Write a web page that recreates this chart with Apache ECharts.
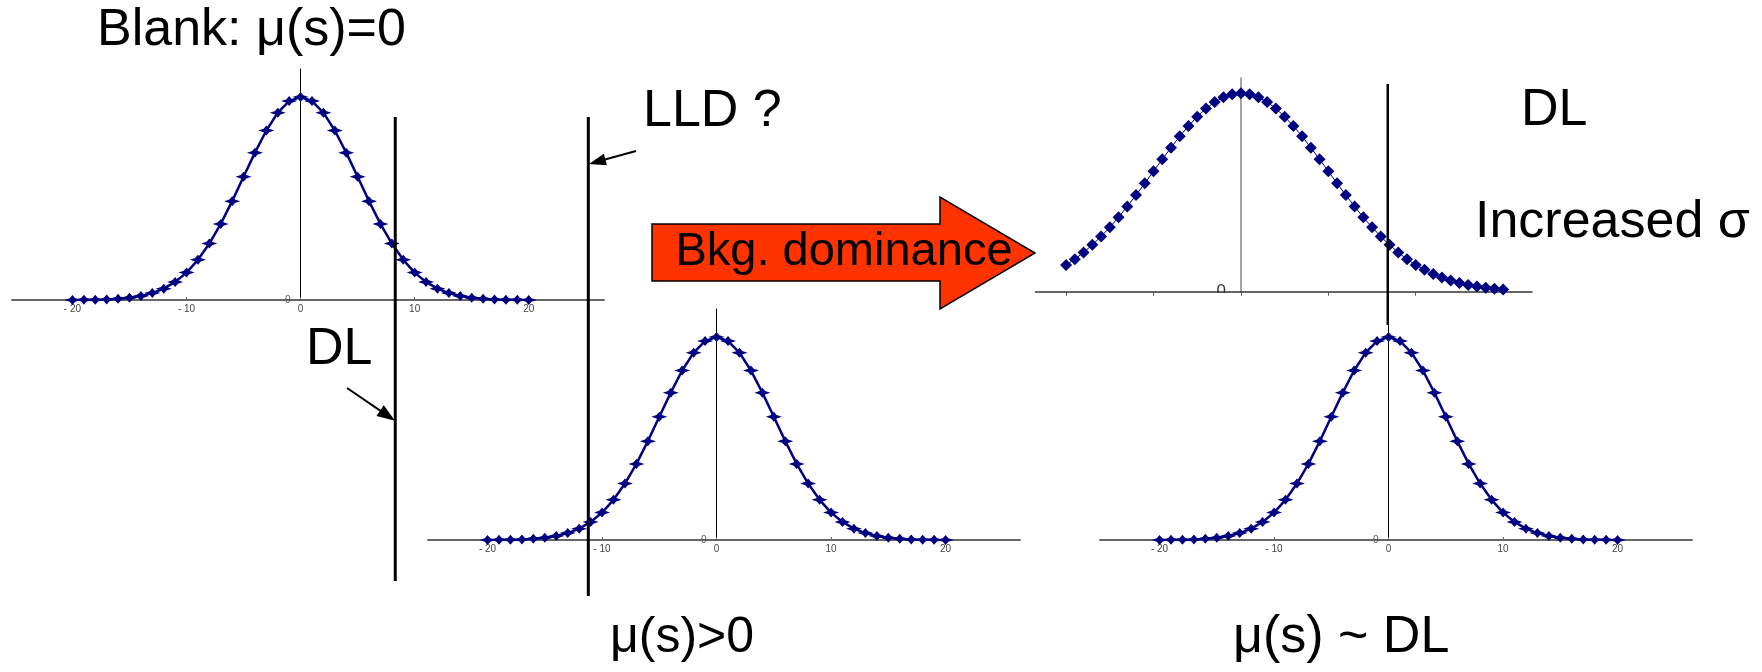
<!DOCTYPE html>
<html>
<head>
<meta charset="utf-8">
<script src="https://cdn.jsdelivr.net/npm/echarts@6/dist/echarts.min.js"></script>
<style>
html,body{margin:0;padding:0;background:#fff;}
#chart{width:1762px;height:672px;}
</style>
</head>
<body>
<div id="chart"></div>
<script>
// ---- data ----
const xNarrow = [-20,-19,-18,-17,-16,-15,-14,-13,-12,-11,-10,-9,-8,-7,-6,-5,-4,-3,-2,-1,0,1,2,3,4,5,6,7,8,9,10,11,12,13,14,15,16,17,18,19,20];
const yBlank = [0.0003,0.0007,0.0015,0.003,0.006,0.011,0.020,0.034,0.056,0.089,0.135,0.198,0.278,0.375,0.487,0.607,0.726,0.835,0.923,0.980,1,0.980,0.923,0.835,0.726,0.607,0.487,0.375,0.278,0.198,0.135,0.089,0.056,0.034,0.020,0.011,0.006,0.003,0.0015,0.0007,0.0003];
const ySignal = [0.0003,0.0007,0.0015,0.003,0.006,0.011,0.020,0.034,0.056,0.089,0.135,0.198,0.278,0.375,0.487,0.607,0.726,0.835,0.923,0.980,1,0.980,0.923,0.835,0.726,0.607,0.487,0.375,0.278,0.198,0.135,0.089,0.056,0.034,0.020,0.011,0.006,0.003,0.0015,0.0007,0.0003];
const yAtDL = [0.0003,0.0007,0.0015,0.003,0.006,0.011,0.020,0.034,0.056,0.089,0.135,0.198,0.278,0.375,0.487,0.607,0.726,0.835,0.923,0.980,1,0.980,0.923,0.835,0.726,0.607,0.487,0.375,0.278,0.198,0.135,0.089,0.056,0.034,0.020,0.011,0.006,0.003,0.0015,0.0007,0.0003];
const xWide = [-20,-19,-18,-17,-16,-15,-14,-13,-12,-11,-10,-9,-8,-7,-6,-5,-4,-3,-2,-1,0,1,2,3,4,5,6,7,8,9,10,11,12,13,14,15,16,17,18,19,20,21,22,23,24,25,26,27,28,29,30];
const yWide = [0.135,0.164,0.198,0.236,0.278,0.325,0.375,0.430,0.487,0.546,0.607,0.667,0.726,0.783,0.835,0.882,0.923,0.956,0.980,0.995,1,0.995,0.980,0.956,0.923,0.882,0.835,0.783,0.726,0.667,0.607,0.546,0.487,0.430,0.375,0.325,0.278,0.236,0.198,0.164,0.135,0.110,0.089,0.071,0.056,0.044,0.034,0.026,0.020,0.015,0.011];
const tickValues = [-20,-10,0,10,20];
// limit lines (x value in the units of the panel they are read from)
const dlBlankX = 8.3;      // DL, top-left panel
const lldX = -11.2;        // LLD, bottom-middle panel
const dlWideX = 16.8;      // DL, top-right panel

const FONT = '"Liberation Sans", Arial, sans-serif';
const NAVY = '#000080';
const starPath = 'path://M0,-10 L3.5,-3.5 L10,0 L3.5,3.5 L0,10 L-3.5,3.5 L-10,0 L-3.5,-3.5 Z';

function pairs(xs, ys){ return xs.map((x,i)=>[x, ys[i]]); }

const grids = [
  {left:12,   top:69, width:592,   height:231},
  {left:428,  top:309, width:592,  height:231},
  {left:1100, top:309, width:592,  height:231},
  {left:1035.5, top:78, width:496.5, height:213.7}
];
const xRanges = [[-25.3,26.6],[-25.2,26.5],[-25.2,26.5],[-23.5,33.3]];
// y axis sits on x = 0 of its panel
function zeroOffset(i){ return -grids[i].width * (0 - xRanges[i][0]) / (xRanges[i][1] - xRanges[i][0]); }

function narrowX(i){
  return {
    type:'value', gridIndex:i, min:xRanges[i][0], max:xRanges[i][1],
    splitLine:{show:false},
    axisLine:{show:true, onZero:false, lineStyle:{color:'#666', width:2}},
    axisTick:{show:true, inside:true, length:3, customValues:tickValues, lineStyle:{color:'#666'}},
    axisLabel:{show:true, customValues:tickValues, fontSize:10, color:'#444', margin:4, fontFamily:FONT,
      formatter:v => v<0 ? '- '+Math.abs(v) : String(v)}
  };
}
function narrowY(i){
  return {
    type:'value', gridIndex:i, min:0, max:1.138, position:'left', offset:zeroOffset(i),
    splitLine:{show:false},
    axisLine:{show:true, onZero:false, lineStyle:{color:'#000', width:1}},
    axisTick:{show:true, length:4, customValues:[0], lineStyle:{color:'#666'}},
    axisLabel:{show:true, customValues:[0], fontSize:10, color:'#555', margin:10, fontFamily:FONT}
  };
}

const option = {
  animation:false,
  backgroundColor:'#fff',
  grid: grids,
  xAxis: [narrowX(0), narrowX(1), narrowX(2), {
    type:'value', gridIndex:3, min:xRanges[3][0], max:xRanges[3][1],
    splitLine:{show:false},
    axisLine:{show:true, onZero:false, lineStyle:{color:'#333', width:1.5}},
    axisTick:{show:true, length:4, customValues:tickValues, lineStyle:{color:'#555'}},
    axisLabel:{show:false}
  }],
  yAxis: [narrowY(0), narrowY(1), narrowY(2), {
    type:'value', gridIndex:3, min:0, max:1.077, position:'left', offset:zeroOffset(3),
    splitLine:{show:false},
    axisLine:{show:true, onZero:false, lineStyle:{color:'#888', width:1.5}},
    axisTick:{show:false},
    axisLabel:{show:true, customValues:[0], fontSize:17, color:'#333', margin:15, fontFamily:FONT}
  }],
  series: [
    {type:'line', xAxisIndex:0, yAxisIndex:0, data:pairs(xNarrow,yBlank), symbol:starPath, symbolSize:[16,10], showAllSymbol:true,
      lineStyle:{color:NAVY, width:2.5}, itemStyle:{color:NAVY}},
    {type:'line', xAxisIndex:1, yAxisIndex:1, data:pairs(xNarrow,ySignal), symbol:starPath, symbolSize:[16,10], showAllSymbol:true,
      lineStyle:{color:NAVY, width:2.5}, itemStyle:{color:NAVY}},
    {type:'line', xAxisIndex:2, yAxisIndex:2, data:pairs(xNarrow,yAtDL), symbol:starPath, symbolSize:[16,10], showAllSymbol:true,
      lineStyle:{color:NAVY, width:2.5}, itemStyle:{color:NAVY}},
    {type:'line', xAxisIndex:3, yAxisIndex:3, data:pairs(xWide,yWide), symbol:'diamond', symbolSize:12, showAllSymbol:true,
      lineStyle:{color:NAVY, width:1}, itemStyle:{color:NAVY}}
  ]
};

const chart = echarts.init(document.getElementById('chart'), null, {renderer:'canvas'});
chart.setOption(option);

function arrow(x1,y1,x2,y2,len,w){
  const a = Math.atan2(y2-y1, x2-x1), c = Math.cos(a), s = Math.sin(a);
  const bx = x2 - len*c, by = y2 - len*s;
  const px = -s*w/2, py = c*w/2;
  return [
    {type:'line', shape:{x1:x1,y1:y1,x2:bx+len*0.3*c,y2:by+len*0.3*s}, style:{stroke:'#000', lineWidth:2}, z:10},
    {type:'polygon', shape:{points:[[x2,y2],[bx+px,by+py],[bx-px,by-py]]}, style:{fill:'#000'}, z:10}
  ];
}
function txt(t, x, y, size, align){
  return {type:'text', z:20, style:{text:t, x:x, y:y, font:size+'px '+FONT, fill:'#000',
    align:align||'left', verticalAlign:'middle'}};
}

const xDL1 = chart.convertToPixel({xAxisIndex:0}, dlBlankX);
const xLLD = chart.convertToPixel({xAxisIndex:1}, lldX);
const xDL4 = chart.convertToPixel({xAxisIndex:3}, dlWideX);

const graphics = [
  {type:'line', z:5, shape:{x1:xDL1, y1:117, x2:xDL1, y2:581}, style:{stroke:'#000', lineWidth:3}},
  {type:'line', z:5, shape:{x1:xLLD, y1:117, x2:xLLD, y2:596}, style:{stroke:'#000', lineWidth:3}},
  {type:'line', z:5, shape:{x1:xDL4, y1:84, x2:xDL4, y2:325}, style:{stroke:'#000', lineWidth:2.5}},
  // lower half of the wide panel's "0" is hidden in the reference
  {type:'rect', z:8, shape:{x:1200, y:293, width:32, height:14}, style:{fill:'#fff'}},
  // big arrow
  {type:'polygon', z:12, shape:{points:[[652,224],[940,224],[940,197],[1035,253],[940,309],[940,281],[652,281]]},
    style:{fill:'#FF3300', stroke:'#000', lineWidth:1.5}},
  txt('Bkg. dominance', 844, 252, 47, 'center'),
  txt('Blank: μ(s)=0', 97, 31, 52),
  txt('LLD ?', 643, 112, 52),
  txt('DL', 306, 350, 52),
  txt('DL', 1521, 111, 52),
  txt('Increased σ', 1475, 223, 52),
  txt('μ(s)>0', 610, 638, 50),
  txt('μ(s) ~ DL', 1233, 638, 52)
].concat(arrow(347,388,395,420.7,18,13)).concat(arrow(636,151,589,164,17,12));

chart.setOption({graphic: graphics});
</script>
</body>
</html>
